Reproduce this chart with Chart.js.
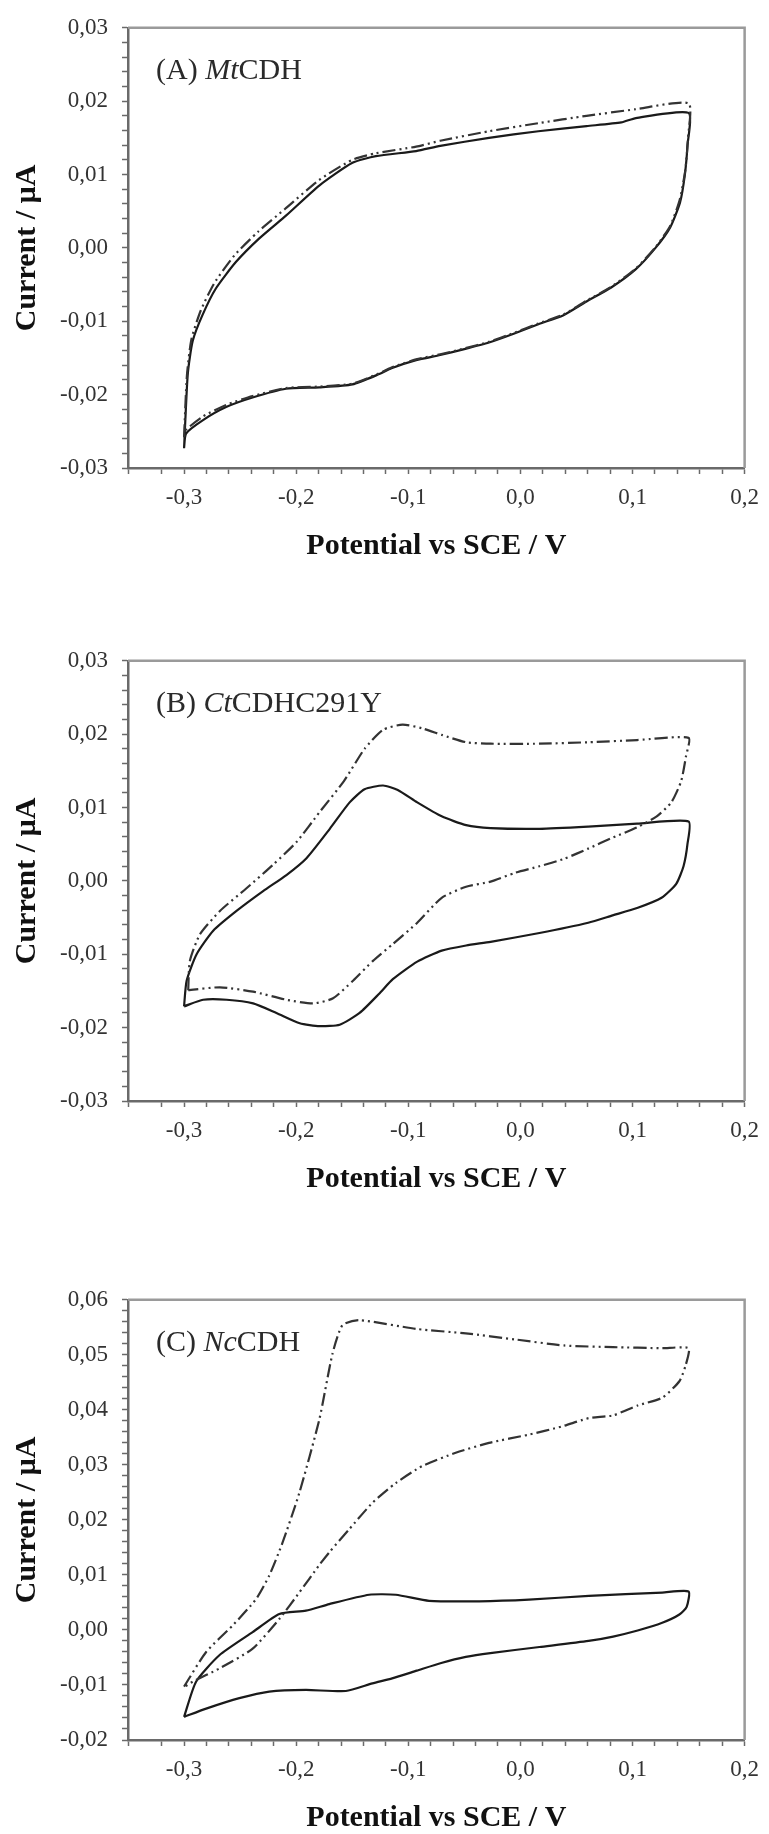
<!DOCTYPE html>
<html>
<head>
<meta charset="utf-8">
<script src="https://cdn.jsdelivr.net/npm/chart.js@4.4.1/dist/chart.umd.min.js"></script>
<style>
  html, body { margin: 0; padding: 0; background: #fff; overflow: hidden; }
  .panel { position: absolute; left: 0; width: 769px; height: 580px; }
</style>
</head>
<body>
<div class="panel" style="top:0px"><canvas id="chartA" width="769" height="580"></canvas></div>
<div class="panel" style="top:633px"><canvas id="chartB" width="769" height="580"></canvas></div>
<div class="panel" style="top:1272px"><canvas id="chartC" width="769" height="580"></canvas></div>
<script>
// (A) MtCDH
const potA_solid = [-0.300,-0.2967,-0.2923,-0.2834,-0.2715,-0.2536,-0.2329,-0.2091,-0.1794,-0.1498,-0.1289,-0.093,-0.0715,-0.028,0.016,0.059,0.090,0.103,0.150,
  0.149,0.1467,0.1424,0.1336,0.1205,0.103,0.081,0.059,0.038,0.016,-0.006,-0.028,-0.050,-0.0715,-0.093,-0.115,-0.126,-0.1498,-0.1794,-0.2091,-0.2389,-0.2625,-0.2834,-0.2982,-0.300];
const curA_solid = [-0.0273,-0.0172,-0.0127,-0.0091,-0.0055,-0.0019,0.0013,0.0044,0.0085,0.0116,0.0125,0.0132,0.0139,0.0150,0.0159,0.0166,0.0171,0.0177,0.0184,
  0.0139,0.0100,0.0062,0.0028,0.0000,-0.0029,-0.0054,-0.0073,-0.0092,-0.0104,-0.0117,-0.0129,-0.0138,-0.0146,-0.0153,-0.0164,-0.0172,-0.0186,-0.0190,-0.0192,-0.0204,-0.0217,-0.0235,-0.0253,-0.0273];
const potA_dash = [-0.300,-0.2975,-0.2935,-0.285,-0.273,-0.255,-0.234,-0.210,-0.180,-0.150,-0.129,-0.093,-0.0715,-0.028,0.016,0.059,0.103,0.150,
  0.1495,0.147,0.142,0.1336,0.1205,0.103,0.081,0.059,0.038,0.016,-0.006,-0.028,-0.050,-0.0715,-0.093,-0.115,-0.126,-0.1498,-0.1794,-0.2091,-0.2389,-0.2625,-0.2834,-0.2982,-0.300];
const curA_dash = [-0.0258,-0.0175,-0.0125,-0.0085,-0.0048,-0.0010,0.0022,0.0053,0.0092,0.0120,0.0129,0.0138,0.0146,0.0159,0.0170,0.0180,0.0189,0.0197,
  0.0150,0.0105,0.0065,0.0030,0.0001,-0.0028,-0.0053,-0.0072,-0.0091,-0.0103,-0.0116,-0.0128,-0.0137,-0.0145,-0.0152,-0.0163,-0.0171,-0.0185,-0.0189,-0.0191,-0.0202,-0.0214,-0.0230,-0.0248,-0.0258];

// (B) CtCDHC291Y
const potB_solid = [-0.300,-0.2977,-0.2888,-0.274,-0.2532,-0.2295,-0.2087,-0.1908,-0.170,-0.1523,-0.139,-0.1225,-0.1094,-0.092,-0.0702,-0.0484,-0.0266,0.017,0.0605,0.1041,0.150,
  0.149,0.1455,0.139,0.1259,0.1041,0.0823,0.0605,0.017,-0.0266,-0.0484,-0.0702,-0.092,-0.1138,-0.1255,-0.1434,-0.1612,-0.179,-0.1968,-0.2176,-0.2384,-0.262,-0.283,-0.300];
const curB_solid = [-0.0171,-0.0136,-0.0100,-0.0068,-0.0041,-0.0014,0.0008,0.0031,0.0071,0.0107,0.0125,0.0130,0.0124,0.0107,0.0088,0.0076,0.0072,0.0071,0.0074,0.0078,0.0081,
  0.0050,0.0020,-0.0004,-0.0023,-0.0037,-0.0047,-0.0057,-0.0071,-0.0083,-0.0088,-0.0095,-0.0110,-0.0134,-0.0153,-0.0180,-0.0196,-0.0198,-0.0194,-0.0180,-0.0167,-0.0162,-0.0162,-0.0171];
const potB_dash = [-0.2963,-0.2948,-0.2859,-0.268,-0.2443,-0.2206,-0.1997,-0.179,-0.1574,-0.139,-0.1225,-0.1051,-0.0877,-0.0702,-0.0484,-0.0266,0.017,0.0605,0.1041,0.150,
  0.1477,0.1434,0.1346,0.1216,0.1041,0.0823,0.0605,0.0388,0.017,-0.0048,-0.0266,-0.0484,-0.0702,-0.092,-0.1138,-0.1315,-0.1493,-0.1671,-0.185,-0.2087,-0.2384,-0.268,-0.2963];
const curB_dash = [-0.0149,-0.0109,-0.0073,-0.0041,-0.0010,0.0022,0.0053,0.0094,0.0136,0.0180,0.0206,0.0213,0.0208,0.0199,0.0189,0.0187,0.0187,0.0189,0.0192,0.0195,
  0.0170,0.0136,0.0107,0.0088,0.0073,0.0059,0.0044,0.0030,0.0020,0.0011,-0.0001,-0.0008,-0.0023,-0.0057,-0.0086,-0.0109,-0.0136,-0.0160,-0.0167,-0.0162,-0.0151,-0.0145,-0.0149];

// (C) NcCDH
const potC_solid = [-0.300,-0.2893,-0.2685,-0.2388,-0.215,-0.1913,-0.1705,-0.1349,-0.1111,-0.0815,-0.0369,0.0076,0.0611,0.1265,0.150,
  0.1483,0.1418,0.1265,0.1046,0.0827,0.0608,0.017,-0.0268,-0.0487,-0.0706,-0.0925,-0.1144,-0.132,-0.1557,-0.1913,-0.224,-0.2507,-0.2803,-0.300];
const curC_solid = [-0.0158,-0.0094,-0.0046,-0.0004,0.0029,0.0035,0.0047,0.0064,0.0064,0.0053,0.0052,0.0055,0.0062,0.0068,0.0070,
  0.0042,0.0028,0.0013,-0.0001,-0.0012,-0.0020,-0.0031,-0.0042,-0.0049,-0.0060,-0.0074,-0.0088,-0.0097,-0.0111,-0.0109,-0.0112,-0.0124,-0.0143,-0.0158];
const potC_dash = [-0.300,-0.2803,-0.2567,-0.2358,-0.224,-0.2121,-0.1972,-0.1794,-0.1676,-0.1587,-0.1438,-0.0925,-0.0487,-0.0049,0.0389,0.0827,0.1265,0.150,
  0.1474,0.1418,0.1265,0.1046,0.0827,0.0611,0.0373,0.0076,-0.028,-0.0577,-0.0874,-0.1111,-0.132,-0.1527,-0.1705,-0.1794,-0.1972,-0.215,-0.2388,-0.2685,-0.2923,-0.300];
const curC_dash = [-0.0103,-0.0040,0.0008,0.0056,0.0099,0.0159,0.0249,0.0382,0.0502,0.0554,0.0563,0.0547,0.0539,0.0528,0.0517,0.0514,0.0512,0.0512,
  0.0481,0.0452,0.0422,0.0408,0.0390,0.0385,0.0370,0.0355,0.0340,0.0322,0.0298,0.0267,0.0231,0.0183,0.0141,0.0118,0.0068,0.0020,-0.0034,-0.0070,-0.0094,-0.0104];

const xLabel = v => {
  const k = Math.round(v * 100);
  return k % 10 === 0 ? (k / 100).toFixed(1).replace('.', ',') : '';
};
const yLabel = v => {
  const k = Math.round(v * 1000);
  return k % 10 === 0 ? (k / 1000).toFixed(2).replace('.', ',') : '';
};

const serif = '"Liberation Serif", "Times New Roman", serif';

// frame (top + right) and the panel caption with italic organism part
const framePlugin = {
  id: 'frame',
  afterDraw(chart, args, opts) {
    const {ctx, chartArea: a} = chart;
    ctx.save();
    ctx.strokeStyle = '#9a9a9a';
    ctx.lineWidth = 2.5;
    ctx.beginPath();
    ctx.moveTo(a.left, a.top);
    ctx.lineTo(a.right, a.top);
    ctx.lineTo(a.right, a.bottom);
    ctx.stroke();

    let x = a.left + 28;
    const y = a.top + 43;
    ctx.fillStyle = '#2a2a2a';
    ctx.textBaseline = 'middle';
    opts.parts.forEach(p => {
      ctx.font = (p[1] ? 'italic ' : '') + '30px ' + serif;
      ctx.fillText(p[0], x, y);
      x += ctx.measureText(p[0]).width;
    });
    ctx.restore();
  }
};

function toPoints(xs, ys) {
  return xs.map((x, i) => ({x: x, y: ys[i]}));
}

function makePanel(id, solid, dash, yMin, yMax, parts) {
  const ctx = document.getElementById(id).getContext('2d');
  return new Chart(ctx, {
    type: 'scatter',
    data: {
      datasets: [{
        data: toPoints(dash[0], dash[1]),
        showLine: true,
        borderColor: '#333',
        borderWidth: 2.2,
        borderDash: [13, 4, 2, 4, 2, 4],
        pointRadius: 0,
        tension: 0.2,
        fill: false
      }, {
        data: toPoints(solid[0], solid[1]),
        showLine: true,
        borderColor: '#1a1a1a',
        borderWidth: 2.2,
        pointRadius: 0,
        tension: 0.2,
        fill: false
      }]
    },
    options: {
      responsive: false,
      animation: false,
      devicePixelRatio: 1,
      layout: { padding: { top: 24, right: 23, left: 0, bottom: 0 } },
      plugins: {
        legend: { display: false },
        tooltip: { enabled: false },
        frame: { parts: parts }
      },
      scales: {
        x: {
          type: 'linear',
          min: -0.35,
          max: 0.2,
          afterFit: s => { s.height = 112; },
          border: { color: '#6a6a6a', width: 2.5 },
          grid: { drawOnChartArea: false, tickLength: 6, color: '#6a6a6a', tickWidth: 1.5 },
          ticks: {
            stepSize: 0.02,
            autoSkip: false,
            maxRotation: 0,
            padding: 10,
            color: '#333',
            font: { family: serif, size: 23 },
            callback: xLabel
          },
          title: {
            display: true,
            text: 'Potential vs SCE / V',
            color: '#111',
            font: { family: serif, size: 30, weight: 'bold' },
            padding: { top: 0, bottom: 16 }
          }
        },
        y: {
          type: 'linear',
          min: yMin,
          max: yMax,
          afterFit: s => { s.width = 128; },
          border: { color: '#6a6a6a', width: 2.5 },
          grid: { drawOnChartArea: false, tickLength: 6, color: '#6a6a6a', tickWidth: 1.5 },
          ticks: {
            stepSize: 0.002,
            autoSkip: false,
            padding: 14,
            color: '#333',
            font: { family: serif, size: 23 },
            callback: yLabel
          },
          title: {
            display: true,
            text: 'Current / µA',
            color: '#111',
            font: { family: serif, size: 30, weight: 'bold' },
            padding: { top: 9, bottom: 0 }
          }
        }
      }
    },
    plugins: [framePlugin]
  });
}

makePanel('chartA', [potA_solid, curA_solid], [potA_dash, curA_dash], -0.03, 0.03,
  [['(A) ', false], ['Mt', true], ['CDH', false]]);
makePanel('chartB', [potB_solid, curB_solid], [potB_dash, curB_dash], -0.03, 0.03,
  [['(B) ', false], ['Ct', true], ['CDHC291Y', false]]);
makePanel('chartC', [potC_solid, curC_solid], [potC_dash, curC_dash], -0.02, 0.06,
  [['(C) ', false], ['Nc', true], ['CDH', false]]);
</script>
</body>
</html>
